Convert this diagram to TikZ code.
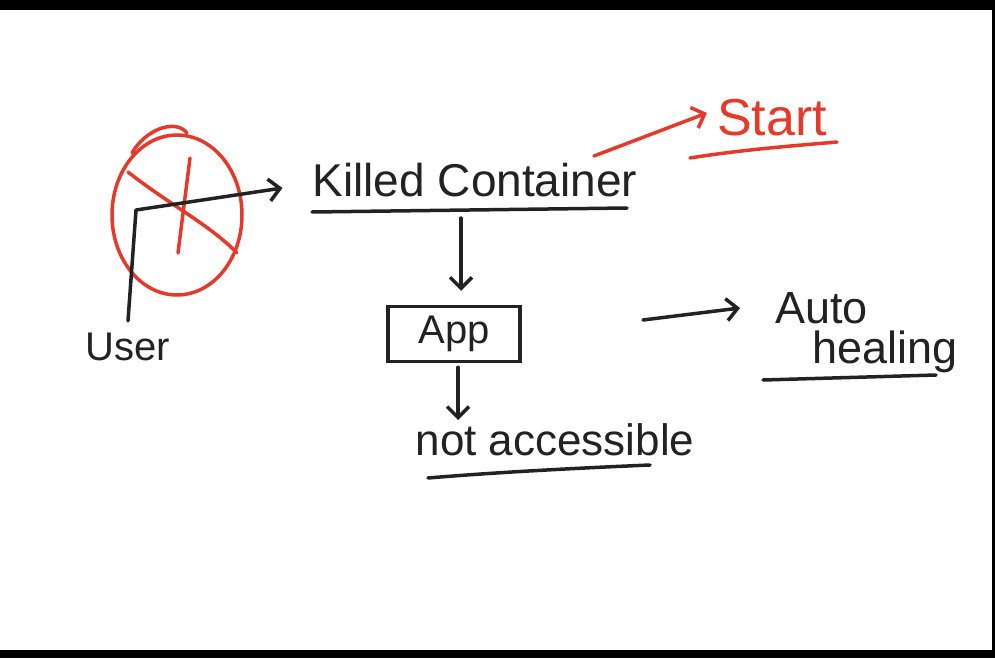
\documentclass[tikz,border=0pt]{standalone}
\usepackage{fontspec}
\setmainfont{Liberation Sans}
\usetikzlibrary{arrows.meta,shapes.geometric}
\definecolor{ink}{HTML}{222222}
\definecolor{rpen}{HTML}{E53A2B}
\begin{document}
\begin{tikzpicture}[x=1pt,y=-1pt,
  pen/.style={line width=3.5pt,line cap=round,line join=round,draw=ink},
  redpen/.style={pen,draw=rpen},
  barb/.style={-{Straight Barb[length=11pt,width=22pt,line width=3.5pt]}},
  txt/.style={text=ink,inner sep=0pt,anchor=center}]
\fill[black] (0,0) rectangle (995,658);
\fill[white] (0,10) rectangle (992,650);
\useasboundingbox (0,0) rectangle (995,658);

% red crossed-out circle
\node[ellipse,draw=rpen,line width=3.5pt,minimum width=130pt,minimum height=160pt] (blocked) at (177,215) {};
\draw[redpen] (132,153) .. controls (145,130) and (175,118) .. (187,133);
\draw[redpen] (128,172) .. controls (170,205) and (210,225) .. (237,253);
\draw[redpen] (190,158) -- (178,253);

% texts
\node[txt,font=\fontsize{40}{44}\selectfont] (user) at (128,347) {User};
\node[txt,font=\fontsize{46}{50}\selectfont] (kc) at (475,180) {Killed Container};
\node[txt,text=rpen,font=\fontsize{52}{56}\selectfont] (start) at (772,118) {Start};
\node[draw=ink,line width=3.5pt,minimum width=132pt,minimum height=55pt,text=ink,font=\fontsize{40}{44}\selectfont] (app) at (454,334) {App};
\node[txt,font=\fontsize{44}{48}\selectfont] (na) at (555,440) {not accessible};
\node[txt,anchor=west,font=\fontsize{45}{50}\selectfont] (autoA) at (775,308) {Auto};
\node[txt,anchor=west,font=\fontsize{45}{50}\selectfont] (autoB) at (812,352) {healing};

% underlines
\draw[pen] (312,212) -- (627,208);
\draw[redpen] (690,158) .. controls (740,150) and (790,146) .. (837,142);
\draw[pen] (428,478) .. controls (500,472) and (580,468) .. (650,465);
\draw[pen] (763,380) -- (936,375);

% connectors
\coordinate (ubend) at (136,210);
\draw[pen,barb] ([yshift=12pt]user.north) -- (ubend) -- ([xshift=-30pt,yshift=-8pt]kc.west);
\coordinate (kcu) at (461,218);
\draw[pen,barb] (kcu) -- ([xshift=7pt,yshift=14pt]app.north);
\draw[pen,barb] ([xshift=4pt,yshift=-4pt]app.south) -- ([xshift=4pt]app.south |- 0,420);
\draw[redpen,barb] (594,156) -- ([xshift=-10pt,yshift=5pt]start.west);
\coordinate (hs) at (643,320);
\draw[pen,barb] (hs) -- ([xshift=-35pt]autoA.west);
\end{tikzpicture}
\end{document}
